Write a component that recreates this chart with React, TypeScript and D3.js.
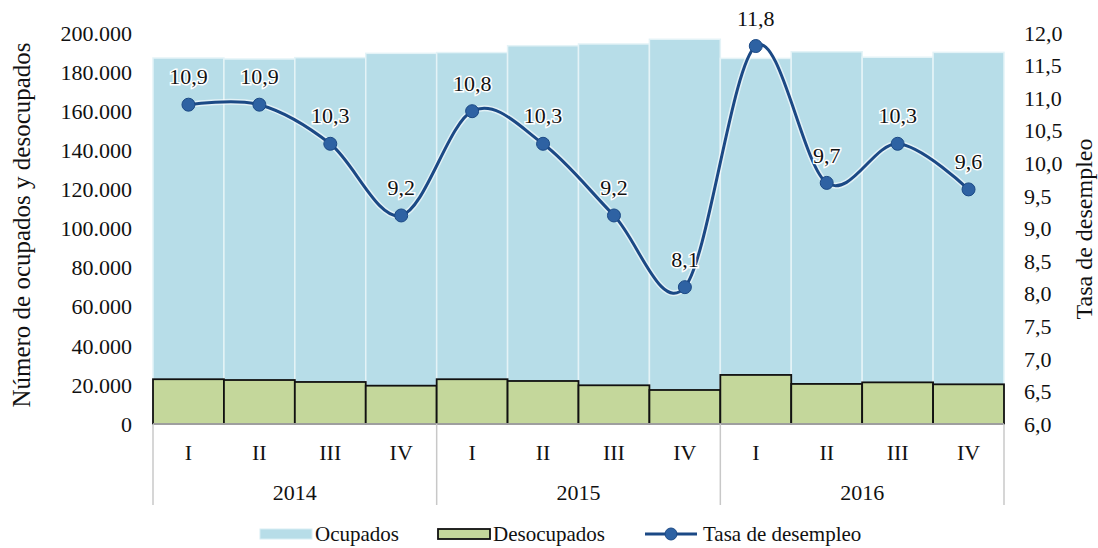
import * as d3 from "d3";

// Quarters and years on the category axis
const quarters = ["I", "II", "III", "IV", "I", "II", "III", "IV", "I", "II", "III", "IV"];
const years = ["2014", "2015", "2016"];

// Series values
const ocupados = [187200, 186700, 187400, 189600, 190000, 193500, 194400, 196800, 187000, 190400, 187600, 190100];
const desocupados = [22900, 22500, 21500, 19600, 22900, 22000, 19800, 17400, 25100, 20500, 21300, 20300];
const tasa = [10.9, 10.9, 10.3, 9.2, 10.8, 10.3, 9.2, 8.1, 11.8, 9.7, 10.3, 9.6];

// Tick values for both axes
const leftTicks = [0, 20000, 40000, 60000, 80000, 100000, 120000, 140000, 160000, 180000, 200000];
const rightTicks = [6, 6.5, 7, 7.5, 8, 8.5, 9, 9.5, 10, 10.5, 11, 11.5, 12];

const W = 1098;
const H = 548;
const plot = { left: 153, right: 1004, top: 33, bottom: 424 };
const FONT = "'Liberation Serif', 'Times New Roman', serif";
const FS = 22;

const BLUE = "#b7dde8";
const GREEN = "#c4d79b";
const LINE = "#1b4985";
const MARK = "#2e62a3";

const fmtThousands = (v: number) =>
  v === 0 ? "0" : d3.format(",")(v).replace(/,/g, ".");
const fmtRate = (v: number) => d3.format(".1f")(v).replace(".", ",");

export default function App() {
  const idx = d3.range(quarters.length);
  const x = d3.scaleBand<number>().domain(idx).range([plot.left, plot.right]).padding(0);
  const yL = d3.scaleLinear().domain([0, 200000]).range([plot.bottom, plot.top]);
  const yR = d3.scaleLinear().domain([6, 12]).range([plot.bottom, plot.top]);
  const bw = x.bandwidth();
  const cx = (i: number) => (x(i) as number) + bw / 2;

  // Excel-like smoothed line
  const line = d3
    .line<number>()
    .x((_, i) => cx(i))
    .y((d) => yR(d))
    .curve(d3.curveCardinal.tension(0));

  const groupEdges = years.map((_, g) => x(g * 4) as number).concat([plot.right]);

  const labelStyle = {
    fontFamily: FONT,
    fontSize: FS,
    fill: "#111",
    stroke: "#fff",
    strokeWidth: 3,
    paintOrder: "stroke" as const,
  };

  const legY = 534;

  return (
    <svg
      width={W}
      height={H}
      style={{ position: "absolute", left: 0, top: 0, background: "#fff" }}
    >
      {/* Ocupados bars (from zero) */}
      {ocupados.map((v, i) => (
        <rect
          key={"o" + i}
          x={x(i) as number}
          y={yL(v)}
          width={bw}
          height={yL(0) - yL(v)}
          fill={BLUE}
          stroke="#e4f3f7"
          strokeWidth={1.5}
        />
      ))}
      {/* Desocupados bars, drawn over them */}
      {desocupados.map((v, i) => (
        <rect
          key={"d" + i}
          x={x(i) as number}
          y={yL(v)}
          width={bw}
          height={yL(0) - yL(v)}
          fill={GREEN}
          stroke="#111"
          strokeWidth={1.8}
        />
      ))}

      {/* Category axis */}
      <line x1={plot.left} x2={plot.right} y1={plot.bottom} y2={plot.bottom} stroke="#c8c8c8" strokeWidth={1.5} />
      {groupEdges.map((ex, i) => (
        <line key={"e" + i} x1={ex} x2={ex} y1={plot.bottom} y2={505} stroke="#c8c8c8" strokeWidth={1.5} />
      ))}
      {quarters.map((q, i) => (
        <text key={"q" + i} x={cx(i)} y={452} dy="0.35em" textAnchor="middle" fontFamily={FONT} fontSize={FS} fill="#111">
          {q}
        </text>
      ))}
      {years.map((yr, g) => (
        <text
          key={"y" + g}
          x={(groupEdges[g] + groupEdges[g + 1]) / 2}
          y={492}
          dy="0.35em"
          textAnchor="middle"
          fontFamily={FONT}
          fontSize={FS}
          fill="#111"
        >
          {yr}
        </text>
      ))}

      {/* Left axis labels */}
      {leftTicks.map((t) => (
        <text key={"l" + t} x={132} y={yL(t)} dy="0.35em" textAnchor="end" fontFamily={FONT} fontSize={FS} fill="#111">
          {fmtThousands(t)}
        </text>
      ))}
      {/* Right axis labels */}
      {rightTicks.map((t) => (
        <text key={"r" + t} x={1024} y={yR(t)} dy="0.35em" textAnchor="start" fontFamily={FONT} fontSize={FS} fill="#111">
          {fmtRate(t)}
        </text>
      ))}

      {/* Axis titles */}
      <text
        transform={`translate(21,${225}) rotate(-90)`}
        dy="0.35em"
        textAnchor="middle"
        fontFamily={FONT}
        fontSize={25}
        fill="#111"
      >
        Número de ocupados y desocupados
      </text>
      <text
        transform={`translate(1084,${229}) rotate(-90)`}
        dy="0.35em"
        textAnchor="middle"
        fontFamily={FONT}
        fontSize={24}
        fill="#111"
      >
        Tasa de desempleo
      </text>

      {/* Unemployment rate line */}
      <path d={line(tasa) ?? ""} fill="none" stroke="#fff" strokeWidth={6} strokeOpacity={0.6} />
      <path d={line(tasa) ?? ""} fill="none" stroke={LINE} strokeWidth={3} />
      {tasa.map((v, i) => (
        <circle key={"m" + i} cx={cx(i)} cy={yR(v)} r={6.5} fill={MARK} stroke={LINE} strokeWidth={1} />
      ))}
      {tasa.map((v, i) => (
        <text key={"t" + i} x={cx(i)} y={yR(v) - 28} dy="0.35em" textAnchor="middle" {...labelStyle}>
          {fmtRate(v)}
        </text>
      ))}

      {/* Legend */}
      <g fontFamily={FONT} fontSize={21} fill="#111">
        <rect x={260} y={legY - 5} width={52} height={10} fill={BLUE} stroke="#d8eef4" strokeWidth={1} />
        <text x={315} y={legY} dy="0.35em">Ocupados</text>
        <rect x={438} y={legY - 5} width={52} height={10} fill={GREEN} stroke="#111" strokeWidth={1.8} />
        <text x={493} y={legY} dy="0.35em">Desocupados</text>
        <line x1={645} x2={697} y1={legY} y2={legY} stroke={LINE} strokeWidth={3} />
        <circle cx={671} cy={legY} r={6} fill={MARK} stroke={LINE} strokeWidth={1} />
        <text x={703} y={legY} dy="0.35em">Tasa de desempleo</text>
      </g>
    </svg>
  );
}
